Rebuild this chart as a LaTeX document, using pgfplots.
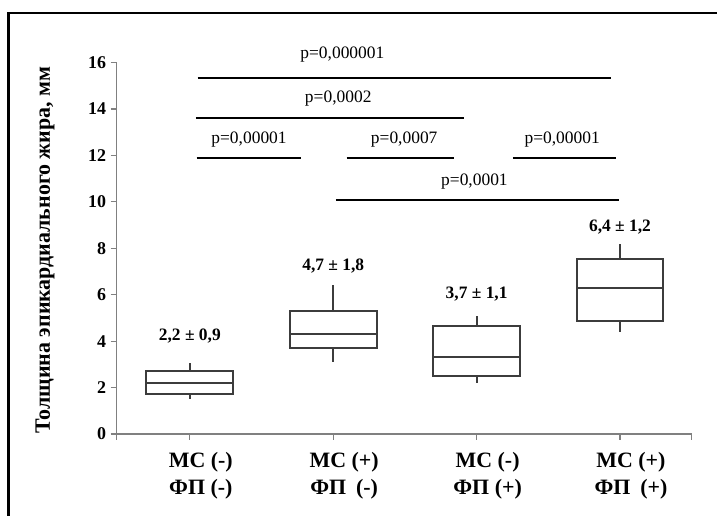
\documentclass[border=0pt]{standalone}
\usepackage{fontspec}
\setmainfont{Liberation Serif}
\usepackage{pgfplots}
\pgfplotsset{compat=1.18}
\usepgfplotslibrary{statistics}
\definecolor{axisgray}{RGB}{128,128,128}
\definecolor{boxgray}{RGB}{60,60,60}
\begin{document}
\begin{tikzpicture}
\begin{axis}[
  at={(116.7bp,82bp)}, anchor=south west,
  scale only axis, width=575bp, height=371.4bp,
  xmin=-0.51, xmax=3.5, ymin=0, ymax=16,
  axis x line*=bottom, axis y line*=left,
  axis line style={axisgray, line width=1.2bp, -},
  every tick/.style={axisgray, line width=1.2bp},
  tick align=outside, major tick length=6bp,
  ytick={0,2,...,16},
  xtick={0,1,2,3},
  xticklabels={{МС (-)\\ФП (-)},{МС (+)\\ФП\hspace{0.45em}(-)},{МС (-)\\ФП (+)},{МС (+)\\ФП\hspace{0.45em}(+)}},
  extra x ticks={-0.51,3.5}, extra x tick labels={},
  xticklabel style={align=center, font=\fontsize{22}{26.6}\selectfont\bfseries, yshift=-9bp, xshift=11bp},
  yticklabel style={font=\fontsize{18}{20}\selectfont\bfseries, xshift=-1bp},
  /pgf/number format/assume math mode=true,
  ylabel={Толщина эпикардиального жира, мм},
  ylabel style={at={(axis description cs:-0.1247,0.495)}, anchor=center, font=\fontsize{22}{26}\selectfont\bfseries},
  boxplot/draw direction=y,
  clip=false,
]
% boxes
\addplot[draw=boxgray, line width=2bp, boxplot prepared={draw position=0, lower whisker=1.52, lower quartile=1.71, median=2.20, upper quartile=2.70, upper whisker=3.07, box extend=0.605, whisker extend=0}] coordinates {};
\addplot[draw=boxgray, line width=2bp, boxplot prepared={draw position=1, lower whisker=3.12, lower quartile=3.71, median=4.31, upper quartile=5.31, upper whisker=6.42, box extend=0.605, whisker extend=0}] coordinates {};
\addplot[draw=boxgray, line width=2bp, boxplot prepared={draw position=2, lower whisker=2.21, lower quartile=2.50, median=3.30, upper quartile=4.65, upper whisker=5.08, box extend=0.605, whisker extend=0}] coordinates {};
\addplot[draw=boxgray, line width=2bp, boxplot prepared={draw position=3, lower whisker=4.41, lower quartile=4.88, median=6.29, upper quartile=7.53, upper whisker=8.19, box extend=0.605, whisker extend=0}] coordinates {};
% significance lines
\addplot[black, line width=2bp, forget plot] coordinates {(0.054,15.35) (2.94,15.35)};
\addplot[black, line width=2bp, forget plot] coordinates {(0.042,13.63) (1.912,13.63)};
\addplot[black, line width=2bp, forget plot] coordinates {(0.047,11.87) (0.772,11.87)};
\addplot[black, line width=2bp, forget plot] coordinates {(1.093,11.88) (1.842,11.88)};
\addplot[black, line width=2bp, forget plot] coordinates {(2.252,11.88) (2.97,11.88)};
\addplot[black, line width=2bp, forget plot] coordinates {(1.019,10.08) (2.99,10.08)};
% p-values
\node[font=\fontsize{17.5}{20}\selectfont] at (axis cs:1.064,16.33) {p=0,000001};
\node[font=\fontsize{17.5}{20}\selectfont] at (axis cs:1.035,14.46) {p=0,0002};
\node[font=\fontsize{17.5}{20}\selectfont] at (axis cs:0.413,12.70) {p=0,00001};
\node[font=\fontsize{17.5}{20}\selectfont] at (axis cs:1.495,12.70) {p=0,0007};
\node[font=\fontsize{17.5}{20}\selectfont] at (axis cs:2.597,12.70) {p=0,00001};
\node[font=\fontsize{17.5}{20}\selectfont] at (axis cs:1.985,10.87) {p=0,0001};
% means
\node[font=\fontsize{17.5}{20}\selectfont\bfseries] at (axis cs:0,4.22) {2,2 ± 0,9};
\node[font=\fontsize{17.5}{20}\selectfont\bfseries] at (axis cs:1,7.24) {4,7 ± 1,8};
\node[font=\fontsize{17.5}{20}\selectfont\bfseries] at (axis cs:2,6.03) {3,7 ± 1,1};
\node[font=\fontsize{17.5}{20}\selectfont\bfseries] at (axis cs:3,8.93) {6,4 ± 1,2};
\end{axis}
\draw[black, line width=2.5bp] (8.3bp,0bp) -- (8.3bp,502.9bp) -- (717bp,502.9bp);
\pgfresetboundingbox
\useasboundingbox (0bp,0bp) rectangle (717bp,516bp);
\end{tikzpicture}
\end{document}
